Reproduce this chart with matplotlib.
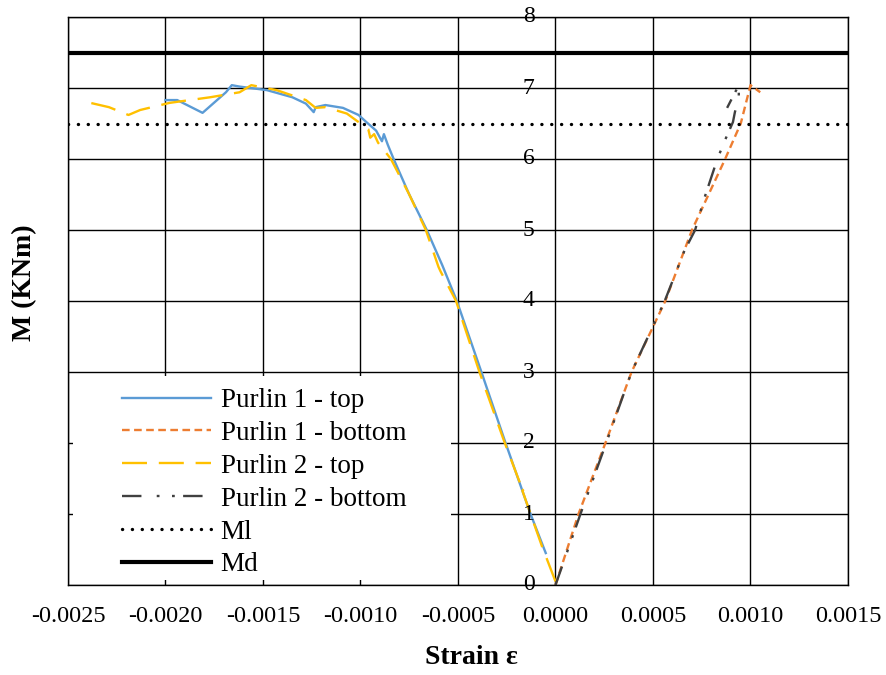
import matplotlib
matplotlib.use("Agg")
import matplotlib.pyplot as plt
from matplotlib.patches import Rectangle

plt.rcParams['font.family'] = ['Liberation Serif', 'DejaVu Serif']
plt.rcParams['lines.scale_dashes'] = False

# strain / moment readings
p1_top_x = [-0.00005, -0.000128, -0.000256, -0.00038, -0.000506, -0.00058, -0.00066, -0.00075,
            -0.00083, -0.00086, -0.00088, -0.00089, -0.00092, -0.00097, -0.00101, -0.00109,
            -0.00118, -0.00123, -0.00124, -0.00128, -0.00135, -0.00148, -0.00162, -0.00166,
            -0.00169, -0.00181, -0.00194, -0.00200]
p1_top_y = [0.45, 1.0, 2.0, 3.0, 4.0, 4.5, 5.0, 5.5,
            6.0, 6.2, 6.35, 6.25, 6.4, 6.52, 6.62, 6.72,
            6.76, 6.73, 6.66, 6.78, 6.87, 6.97, 7.02, 7.04,
            6.94, 6.65, 6.83, 6.83]

p1_bot_x = [0.0, 0.000118, 0.000256, 0.00039, 0.000563, 0.0007, 0.00087, 0.00095, 0.00100, 0.00105]
p1_bot_y = [0.0, 1.0, 2.0, 3.0, 4.0, 5.0, 6.0, 6.5, 7.04, 6.94]

p2_top_x = [0.0, -0.00007, -0.00017, -0.00015, -0.00018, -0.00026, -0.00039, -0.00051, -0.00059,
            -0.00060, -0.000665, -0.00075, -0.000844, -0.00091, -0.00093, -0.00095, -0.00096,
            -0.00101, -0.00107, -0.00118, -0.00123, -0.00128, -0.00143, -0.00156, -0.00162,
            -0.00177, -0.00198, -0.00213, -0.00219, -0.00229, -0.00240]
p2_top_y = [0.05, 0.55, 1.33, 1.38, 1.42, 2.0, 3.0, 4.0, 4.42,
            4.48, 5.0, 5.5, 6.0, 6.23, 6.35, 6.3, 6.42,
            6.52, 6.64, 6.73, 6.72, 6.83, 6.97, 7.04, 6.94,
            6.87, 6.79, 6.69, 6.62, 6.73, 6.80]

p2_bot_x = [0.0, 0.000128, 0.00026, 0.00039, 0.00056, 0.00066, 0.000716, 0.00076, 0.00083,
            0.00087, 0.00091, 0.00092, 0.00094, 0.00094, 0.00088]
p2_bot_y = [0.0, 1.0, 2.0, 3.0, 4.0, 4.7, 5.0, 5.42, 6.0,
            6.27, 6.52, 6.66, 6.87, 7.04, 6.72]

Ml = 6.5
Md = 7.5

xticks = [-0.0025, -0.0020, -0.0015, -0.0010, -0.0005, 0.0, 0.0005, 0.0010, 0.0015]
xticklabels = ['-0.0025', '-0.0020', '-0.0015', '-0.0010', '-0.0005', '0.0000', '0.0005', '0.0010', '0.0015']
yticks = [0, 1, 2, 3, 4, 5, 6, 7, 8]

fig = plt.figure(figsize=(8.87, 6.75), dpi=100)
ax = fig.add_axes([68 / 887, 90 / 675, 780 / 887, 568 / 675])

ax.plot(p1_top_x, p1_top_y, color='#5B9BD5', lw=1.7, label='Purlin 1 - top')
ax.plot(p1_bot_x, p1_bot_y, color='#ED7D31', lw=1.7, linestyle=(0, (5.5, 3.2)), label='Purlin 1 - bottom')
ax.plot(p2_top_x, p2_top_y, color='#FFC000', lw=1.7, linestyle=(0, (18, 8.5)), label='Purlin 2 - top')
ax.plot(p2_bot_x, p2_bot_y, color='#404040', lw=1.7, linestyle=(0, (14, 11, 2, 9, 2, 6)), label='Purlin 2 - bottom')
ax.axhline(Ml, color='black', lw=2.4, linestyle=(0, (0.1, 7.0)), dash_capstyle='round', label='Ml')
ax.axhline(Md, color='black', lw=3.0, label='Md')

ax.set_xlim(-0.0025, 0.0015)
ax.set_ylim(0, 8)
ax.set_xticks(xticks)
ax.set_xticklabels(xticklabels, fontsize=17.5)
ax.set_yticks(yticks)
ax.set_yticklabels([])
ax.tick_params(length=0)
ax.tick_params(axis='x', pad=15)
ax.set_axisbelow(True)
ax.grid(True, color='black', lw=1.0)
for s in ax.spines.values():
    s.set_color('black')
    s.set_linewidth(1.0)

# y labels sit next to the zero-strain line
for y in yticks:
    ax.annotate(str(y), xy=(0, y), xytext=(-15, 0), textcoords='offset points',
                ha='right', va='center', fontsize=17, annotation_clip=False)

ax.set_xlabel('Strain ε', fontsize=20, fontweight='bold')
ax.xaxis.set_label_coords(0.517, -0.105)
ax.set_ylabel('M (KNm)', fontsize=20, fontweight='bold')
ax.yaxis.set_label_coords(-0.040, 0.532)

# white legend area over the grid
ax.add_patch(Rectangle((0.0064, 0.009), 0.484, 0.359, transform=ax.transAxes,
                       facecolor='white', edgecolor='none', zorder=1))
leg = ax.legend(loc='center left', bbox_to_anchor=(0.069, 0.180), frameon=False,
                fontsize=19.5, handlelength=3.3, handletextpad=0.35, borderpad=0,
                borderaxespad=0, labelspacing=0.29)
leg.set_zorder(5)

fig.savefig('out.png', dpi=100)
